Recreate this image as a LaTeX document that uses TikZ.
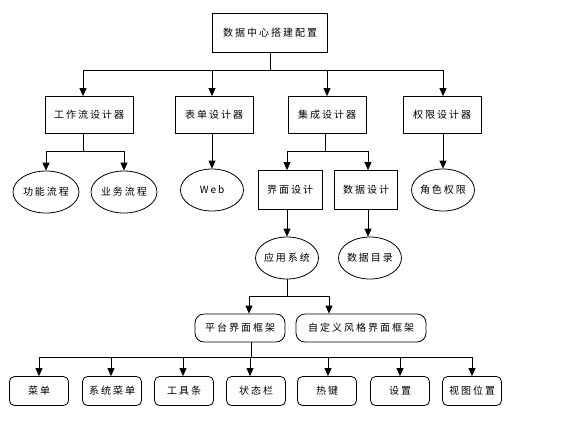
\documentclass[tikz,border=0pt]{standalone}
\usepackage{fontspec}
\newfontfamily\cjk[LetterSpace=20]{Noto Sans CJK SC}
\usetikzlibrary{arrows.meta,shapes.geometric}

\begin{document}
\begin{tikzpicture}[x=1pt,y=-1pt,line width=0.8pt,
    box/.style={draw,inner sep=0pt,minimum height=37},
    pill/.style={draw,rounded corners=9pt,inner sep=0pt,minimum height=28},
    leaf/.style={draw,rounded corners=5pt,inner sep=0pt,minimum width=59,minimum height=29},
    oval/.style={draw,ellipse,inner sep=0pt,minimum width=63,minimum height=42,
      execute at begin node={\hbox to 0pt\bgroup\hss},execute at end node={\hss\egroup}},
    arr/.style={-{Triangle[length=8pt,width=7pt]}},
    every node/.style={font=\cjk\fontsize{10}{12}\selectfont}]
  \fill[white] (0,0) rectangle (575,424);
  \useasboundingbox (0,0) rectangle (575,424);
  % ---- root and the four designers ----
  \node[box,minimum width=115,minimum height=39] (cfg) at (270,33) {数据中心搭建配置};
  \node[box,minimum width=88] (wf) at (89,115)  {工作流设计器};
  \node[box,minimum width=78] (fd) at (214,115) {表单设计器};
  \node[box,minimum width=78] (ig) at (327,115) {集成设计器};
  \node[box,minimum width=78] (rd) at (442,115) {权限设计器};
  % ---- third level ----
  \node[oval,minimum width=66] (gn) at (46,192)  {功能流程};
  \node[oval,minimum width=66] (yw) at (124,192) {业务流程};
  \node[oval] (web) at (212,190) {Web};
  \node[box,minimum width=64,minimum height=39] (jm) at (290,190) {界面设计};
  \node[box,minimum width=63,minimum height=39] (sj) at (366,190) {数据设计};
  \node[oval] (js) at (443,190) {角色权限};
  \node[oval] (yy) at (287,258) {应用系统};
  \node[oval] (ml) at (370,258) {数据目录};
  % ---- interface frames ----
  \node[pill,minimum width=90]  (pt) at (240,328) {平台界面框架};
  \node[pill,minimum width=130] (zd) at (361,328) {自定义风格界面框架};
  % ---- bottom row ----
  \foreach \n/\x/\t in {cd/39/菜单, xt/112/系统菜单, gj/184/工具条, zt/256/状态栏,
      rj/327/热键, sz/400/设置, st/472/视图位置}
    \node[leaf] (\n) at (\x,391) {\t};
  % ---- connectors ----
  \coordinate (j1) at (270,70);
  \draw (cfg) -- (j1);
  \foreach \n/\d in {wf/-6,fd/-2,ig/0,rd/1}
    \draw[arr] (j1) -| ([xshift=\d]\n.north);
  \coordinate (j2) at (83,151);
  \draw ([xshift=-6]wf.south) -- (j2);
  \foreach \n in {gn,yw}
    \draw[arr] (j2) -| (\n.north);
  \draw[arr] ([xshift=-2]fd.south) -- (web.north);
  \draw[arr] ([xshift=1]rd.south) -- (js.north);
  \coordinate (j3) at (325,151);
  \draw ([xshift=-2]ig.south) -- (j3);
  \draw[arr] (j3) -| ([xshift=-3]jm.north);
  \draw[arr] (j3) -| ([xshift=2]sj.north);
  \draw[arr] ([xshift=-3]jm.south) -- (yy.north);
  \draw[arr] ([xshift=2]sj.south) -- ([xshift=-2]ml.north);
  \coordinate (j4) at (287,296);
  \draw (yy) -- (j4);
  \draw[arr] (j4) -| ([xshift=9]pt.north);
  \draw[arr] (j4) -| ([xshift=-32]zd.north);
  \coordinate (j5) at (251,357);
  \draw ([xshift=11]pt.south) -- (j5);
  \foreach \n/\d in {cd/0,xt/-1,gj/-1,zt/-6,rj/1,sz/0,st/0}
    \draw[arr] (j5) -| ([xshift=\d]\n.north);
\end{tikzpicture}
\end{document}
